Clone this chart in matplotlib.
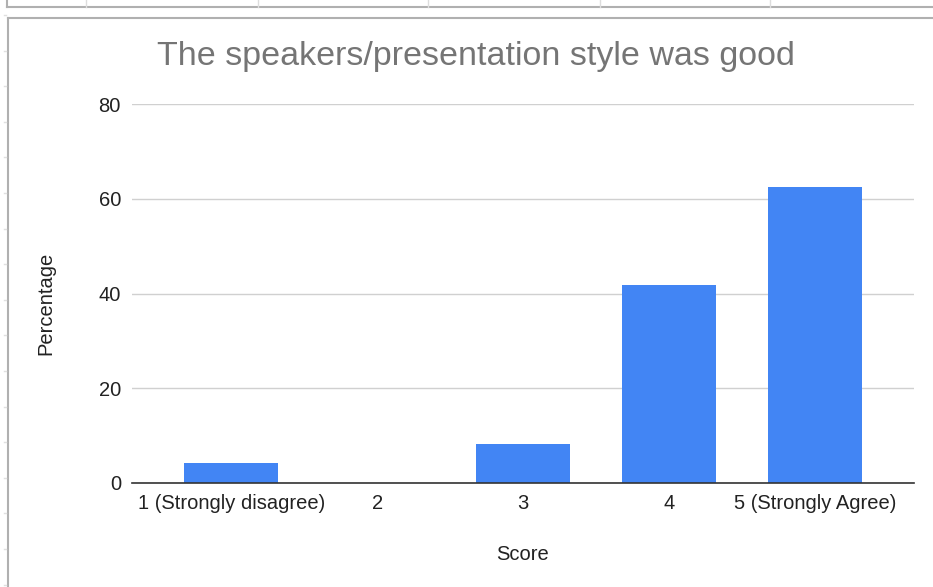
import matplotlib
matplotlib.use("Agg")
import matplotlib.pyplot as plt
from matplotlib.lines import Line2D

categories = ["1 (Strongly disagree)", "2", "3", "4", "5 (Strongly Agree)"]
percentages = [4.2, 0.0, 8.3, 41.7, 62.5]
yticks = [0, 20, 40, 60, 80]

plt.rcParams['font.family'] = ['Liberation Sans', 'DejaVu Sans']

W, H = 933, 587
fig = plt.figure(figsize=(W / 100, H / 100), dpi=100)
fig.patch.set_facecolor("white")

def px(x, y):
    return x / W, 1 - y / H

# spreadsheet frame decorations
frame_col = "#b0b0b0"
x0, y0 = px(7, 7); x1, _ = px(W, 7)
fig.add_artist(Line2D([x0, x1], [y0, y0], color=frame_col, lw=1.5, transform=fig.transFigure))
a0, b0 = px(7, 0)
fig.add_artist(Line2D([a0, a0], [b0, y0], color=frame_col, lw=1.5, transform=fig.transFigure))
for xv in [86, 258, 428, 600, 770]:
    a, b = px(xv, 0); _, c = px(xv, 7)
    fig.add_artist(Line2D([a, a], [b, c], color="#dddddd", lw=1, transform=fig.transFigure))
a, b = px(8, 18); c, _ = px(W, 18)
fig.add_artist(Line2D([a, c], [b, b], color=frame_col, lw=1.5, transform=fig.transFigure))
_, d = px(8, H)
fig.add_artist(Line2D([a, a], [b, d], color=frame_col, lw=1.5, transform=fig.transFigure))
yv = 15
while yv < H:
    e, f = px(4, yv); g, _ = px(6, yv)
    fig.add_artist(Line2D([e, g], [f, f], color="#e0e0e0", lw=1, transform=fig.transFigure))
    yv += 35.6

left, right = 132 / W, 914 / W
bottom, top = 1 - 483 / H, 1 - 104 / H
ax = fig.add_axes([left, bottom, right - left, top - bottom])

x = list(range(len(categories)))
ax.bar(x, percentages, width=0.645, color="#4285F4", zorder=3)

ax.set_xlim(-0.68, len(categories) - 1 + 0.68)
ax.set_ylim(0, 80)
ax.set_yticks(yticks)
ax.set_yticklabels([str(v) for v in yticks], fontsize=14.5, color="#222222")
ax.set_xticks(x)
ax.set_xticklabels(categories, fontsize=14.5, color="#222222")
ax.tick_params(axis="both", length=0)
ax.tick_params(axis="y", pad=8)
ax.tick_params(axis="x", pad=8)
ax.grid(axis="y", color="#d0d0d0", lw=1, zorder=0)
for s in ["top", "right", "left"]:
    ax.spines[s].set_visible(False)
ax.spines["bottom"].set_color("#333333")
ax.spines["bottom"].set_linewidth(1.2)
ax.spines["bottom"].set_zorder(4)

lx, ly = px(46, 303)
fig.text(lx, ly, "Percentage", fontsize=14.5, color="#222222", rotation=90,
         ha="center", va="center")
sx, sy = px(523, 554)
fig.text(sx, sy, "Score", fontsize=14.5, color="#222222", ha="center", va="center")

tx, ty = px(476, 56)
fig.text(tx, ty, "The speakers/presentation style was good", fontsize=24.5,
         color="#757575", ha="center", va="center")

fig.savefig("out.png", dpi=100)
